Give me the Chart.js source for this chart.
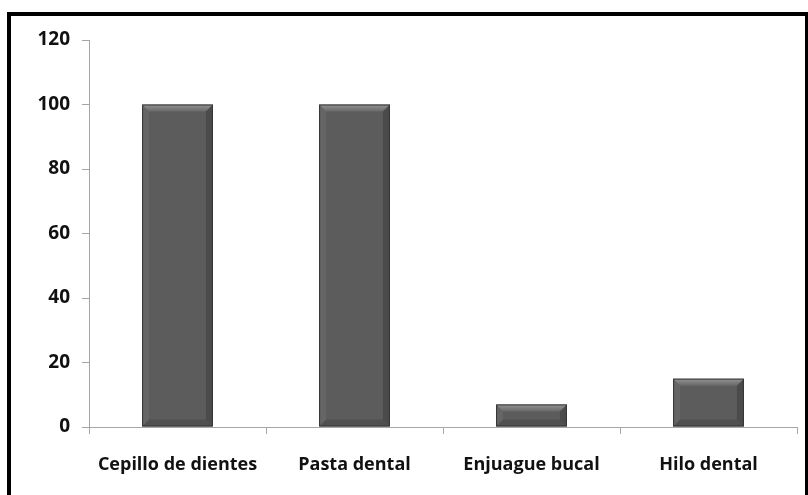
<!DOCTYPE html>
<html>
<head>
<meta charset="utf-8">
<script src="https://cdn.jsdelivr.net/npm/chart.js@4"></script>
<style>
  html, body { margin: 0; padding: 0; background: #fff; }
  body { width: 808px; height: 495px; position: relative; overflow: hidden; }
  #marco {
    position: absolute; left: 7px; top: 12px; width: 794px; height: 500px;
    border: 4px solid #000; box-sizing: content-box; pointer-events: none;
  }
  canvas { position: absolute; left: 0; top: 0; }
</style>
</head>
<body>
<canvas id="grafica" width="808" height="495"></canvas>
<div id="marco"></div>
<script>
const categorias = ["Cepillo de dientes", "Pasta dental", "Enjuague bucal", "Hilo dental"];
const valores = [100, 100, 7, 15];
const ticksY = [0, 20, 40, 60, 80, 100, 120];

// bisel de las barras (estilo Excel)
const biselPlugin = {
  id: "bisel",
  afterDatasetsDraw(chart) {
    const ctx = chart.ctx;
    chart.getDatasetMeta(0).data.forEach(bar => {
      const { x, y, base, width } = bar.getProps(["x", "y", "base", "width"], true);
      const l = x - width / 2, r = x + width / 2, t = y, b = base;
      const e = Math.min(7, (b - t) / 3);
      ctx.save();
      // cara superior clara
      const g = ctx.createLinearGradient(0, t, 0, t + e);
      g.addColorStop(0, "rgba(255,255,255,0.35)");
      g.addColorStop(1, "rgba(255,255,255,0.08)");
      ctx.fillStyle = g;
      ctx.beginPath();
      ctx.moveTo(l, t); ctx.lineTo(r, t); ctx.lineTo(r - e, t + e); ctx.lineTo(l + e, t + e);
      ctx.closePath(); ctx.fill();
      // lados
      ctx.fillStyle = "rgba(0,0,0,0.18)";
      ctx.beginPath();
      ctx.moveTo(r, t); ctx.lineTo(r, b); ctx.lineTo(r - e, b - e); ctx.lineTo(r - e, t + e);
      ctx.closePath(); ctx.fill();
      ctx.fillStyle = "rgba(255,255,255,0.06)";
      ctx.beginPath();
      ctx.moveTo(l, t); ctx.lineTo(l + e, t + e); ctx.lineTo(l + e, b - e); ctx.lineTo(l, b);
      ctx.closePath(); ctx.fill();
      ctx.fillStyle = "rgba(0,0,0,0.12)";
      ctx.beginPath();
      ctx.moveTo(l, b); ctx.lineTo(l + e, b - e); ctx.lineTo(r - e, b - e); ctx.lineTo(r, b);
      ctx.closePath(); ctx.fill();
      ctx.strokeStyle = "#333";
      ctx.lineWidth = 1;
      ctx.strokeRect(l + 0.5, t + 0.5, width - 1, b - t - 1);
      ctx.restore();
    });
  }
};

new Chart(document.getElementById("grafica"), {
  type: "bar",
  data: {
    labels: categorias,
    datasets: [{
      data: valores,
      backgroundColor: "#5c5c5c",
      borderWidth: 0,
      barPercentage: 0.4,
      categoryPercentage: 1
    }]
  },
  plugins: [biselPlugin],
  options: {
    responsive: false,
    animation: false,
    layout: { padding: { left: 0, right: 11, top: 40, bottom: 0 } },
    plugins: { legend: { display: false }, tooltip: { enabled: false } },
    scales: {
      x: {
        offset: true,
        grid: { display: true, drawOnChartArea: false, offset: true, tickLength: 7, color: "#a6a6a6" },
        border: { color: "#a6a6a6", width: 1 },
        ticks: {
          color: "#111", padding: 20,
          font: { family: "Open Sans", size: 18, weight: "bold" },
          maxRotation: 0
        },
        afterFit(scale) { scale.height = 68; }
      },
      y: {
        min: 0, max: 120,
        afterBuildTicks(scale) { scale.ticks = ticksY.map(v => ({ value: v })); },
        grid: { display: true, drawOnChartArea: false, tickLength: 7, color: "#a6a6a6" },
        border: { color: "#a6a6a6", width: 1 },
        ticks: {
          color: "#111", padding: 12,
          font: { family: "Open Sans", size: 19, weight: "bold" }
        },
        afterFit(scale) { scale.width = 89; }
      }
    }
  }
});
</script>
</body>
</html>
